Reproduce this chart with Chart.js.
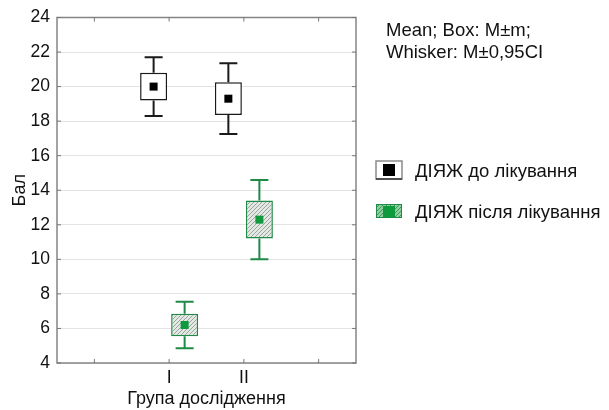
<!DOCTYPE html>
<html>
<head>
<meta charset="utf-8">
<script src="https://cdn.jsdelivr.net/npm/chart.js@4.4.1/dist/chart.umd.min.js"></script>
<style>
  html, body { margin: 0; padding: 0; background: #fff; }
  #wrap { width: 609px; height: 410px; }
</style>
</head>
<body>
<div id="wrap"><canvas id="chart" width="609" height="410"></canvas></div>
<script>
// categories (outer empty slots keep the frame wide like the original)
const groups = ['', 'I', 'II', ''];
const seriesLabels = ['ДІЯЖ до лікування', 'ДІЯЖ після лікування'];
const yTicks = [4, 6, 8, 10, 12, 14, 16, 18, 20, 22, 24];
const noteLines = ['Mean; Box: M±m;', 'Whisker: M±0,95CI'];

// mean, box half-width (m) and whisker half-width (0.95 CI)
const meanBefore = [null, 20.0, 19.3, null];
const seBefore = [null, 0.8, 0.95, null];
const ciBefore = [null, 1.7, 2.05, null];

const meanAfter = [null, 6.2, 12.3, null];
const seAfter = [null, 0.65, 1.1, null];
const ciAfter = [null, 1.35, 2.3, null];

const FONT = '"Liberation Sans", Arial, Helvetica, sans-serif';
const BLACK = '#1a1a1a';
const GREEN = '#1f8a45';
const GREEN_DOT = '#0f9a3e';

const ctx = document.getElementById('chart').getContext('2d');

function makeHatch(bg, fg) {
    const c = document.createElement('canvas');
    c.width = 4;
    c.height = 4;
    const g = c.getContext('2d');
    g.fillStyle = bg;
    g.fillRect(0, 0, 4, 4);
    g.strokeStyle = fg;
    g.lineWidth = 1;
    g.beginPath();
    g.moveTo(0, 4); g.lineTo(4, 0);
    g.moveTo(-1, 1); g.lineTo(1, -1);
    g.moveTo(3, 5); g.lineTo(5, 3);
    g.stroke();
    return ctx.createPattern(c, 'repeat');
}

const hatch = makeHatch('#e4e8e4', '#9aa69c');
const legendHatch = makeHatch('#8fcf9f', '#3d9a58');

function boxRange(mean, se) {
    return mean.map((m, i) => (m === null ? null : [m - se[i], m + se[i]]));
}

const stats = [
    { mean: meanBefore, se: seBefore, ci: ciBefore, color: BLACK, dot: '#000' },
    { mean: meanAfter, se: seAfter, ci: ciAfter, color: GREEN, dot: GREEN_DOT }
];

const boxPlotPlugin = {
    id: 'boxPlot',
    afterDatasetsDraw(chart) {
        const c = chart.ctx;
        const y = chart.scales.y;
        stats.forEach((s, di) => {
            const meta = chart.getDatasetMeta(di);
            meta.data.forEach((bar, j) => {
                if (s.mean[j] === null) return;
                const x = bar.x;
                const m = s.mean[j];
                const capHalf = 9;
                c.save();
                c.strokeStyle = s.color;
                c.lineWidth = 2;
                c.beginPath();
                // upper whisker
                c.moveTo(x, y.getPixelForValue(m + s.se[j]));
                c.lineTo(x, y.getPixelForValue(m + s.ci[j]));
                c.moveTo(x - capHalf, y.getPixelForValue(m + s.ci[j]));
                c.lineTo(x + capHalf, y.getPixelForValue(m + s.ci[j]));
                // lower whisker
                c.moveTo(x, y.getPixelForValue(m - s.se[j]));
                c.lineTo(x, y.getPixelForValue(m - s.ci[j]));
                c.moveTo(x - capHalf, y.getPixelForValue(m - s.ci[j]));
                c.lineTo(x + capHalf, y.getPixelForValue(m - s.ci[j]));
                c.stroke();
                // mean marker
                const py = y.getPixelForValue(m);
                c.fillStyle = s.dot;
                c.fillRect(x - 4, py - 4, 8, 8);
                c.restore();
            });
        });
    },
    afterDraw(chart) {
        const c = chart.ctx;
        const a = chart.chartArea;
        const y = chart.scales.y;
        const x = chart.scales.x;
        c.save();
        // frame
        c.strokeStyle = '#858585';
        c.lineWidth = 1.5;
        c.strokeRect(a.left, a.top, a.right - a.left, a.bottom - a.top);
        // inward ticks
        c.lineWidth = 1;
        c.strokeStyle = '#777';
        c.beginPath();
        yTicks.forEach(v => {
            const py = y.getPixelForValue(v);
            c.moveTo(a.left, py); c.lineTo(a.left + 4, py);
            c.moveTo(a.right, py); c.lineTo(a.right - 4, py);
        });
        groups.forEach((g, i) => {
            const px = x.getPixelForValue(i);
            c.moveTo(px, a.bottom); c.lineTo(px, a.bottom - 4);
            c.moveTo(px, a.top); c.lineTo(px, a.top + 4);
        });
        c.stroke();

        // note
        c.fillStyle = '#111';
        c.font = '18.5px ' + FONT;
        c.textBaseline = 'alphabetic';
        c.textAlign = 'left';
        c.fillText(noteLines[0], 386, 36);
        c.fillText(noteLines[1], 386, 58);

        // legend
        const rows = [177, 218];
        // black marker
        let top = rows[0] - 16;
        c.fillStyle = '#fff';
        c.fillRect(376, top, 26, 18);
        c.strokeStyle = '#8a8a8a';
        c.lineWidth = 1.5;
        c.strokeRect(376, top, 26, 18);
        c.strokeStyle = '#333';
        c.beginPath();
        c.moveTo(376, top + 18); c.lineTo(402, top + 18);
        c.stroke();
        c.fillStyle = '#000';
        c.fillRect(383, top + 3, 12, 12);
        // green marker
        top = rows[1] - 14;
        c.fillStyle = legendHatch;
        c.fillRect(376, top, 26, 14);
        c.strokeStyle = GREEN;
        c.lineWidth = 1;
        c.strokeRect(376.5, top + 0.5, 25, 13);
        c.fillStyle = GREEN_DOT;
        c.fillRect(383, top + 2, 12, 11);

        c.fillStyle = '#111';
        c.fillText(seriesLabels[0], 415, rows[0]);
        c.fillText(seriesLabels[1], 415, rows[1]);
        c.restore();
    }
};

new Chart(ctx, {
    type: 'bar',
    data: {
        labels: groups,
        datasets: [{
            label: seriesLabels[0],
            data: boxRange(meanBefore, seBefore),
            backgroundColor: '#fff',
            borderColor: BLACK,
            borderWidth: 1.5,
            borderSkipped: false,
            categoryPercentage: 0.83,
            barPercentage: 0.87
        }, {
            label: seriesLabels[1],
            data: boxRange(meanAfter, seAfter),
            backgroundColor: hatch,
            borderColor: GREEN,
            borderWidth: 1.5,
            borderSkipped: false,
            categoryPercentage: 0.83,
            barPercentage: 0.87
        }]
    },
    options: {
        responsive: false,
        animation: false,
        layout: { padding: { left: 0, top: 12, right: 253, bottom: 0 } },
        plugins: {
            legend: { display: false },
            tooltip: { enabled: false }
        },
        scales: {
            x: {
                type: 'category',
                offset: true,
                grid: { display: false, drawTicks: false },
                border: { display: false },
                ticks: { color: '#111', font: { family: FONT, size: 17.5 }, padding: 5, maxRotation: 0 },
                title: {
                    display: true,
                    text: 'Група дослідження',
                    color: '#111',
                    font: { family: FONT, size: 18 },
                    padding: { top: 0, bottom: 0 }
                },
                afterFit(scale) { scale.height = 47; }
            },
            y: {
                min: 4,
                max: 24,
                afterBuildTicks(scale) { scale.ticks = yTicks.map(v => ({ value: v })); },
                grid: { color: '#e3e3e3', drawTicks: false },
                border: { display: false },
                ticks: { color: '#111', font: { family: FONT, size: 17.5 }, padding: 7 },
                title: {
                    display: true,
                    text: 'Бал',
                    color: '#111',
                    font: { family: FONT, size: 18 },
                    padding: { top: 9, bottom: 0 }
                },
                afterFit(scale) { scale.width = 57; }
            }
        }
    },
    plugins: [boxPlotPlugin]
});
</script>
</body>
</html>
